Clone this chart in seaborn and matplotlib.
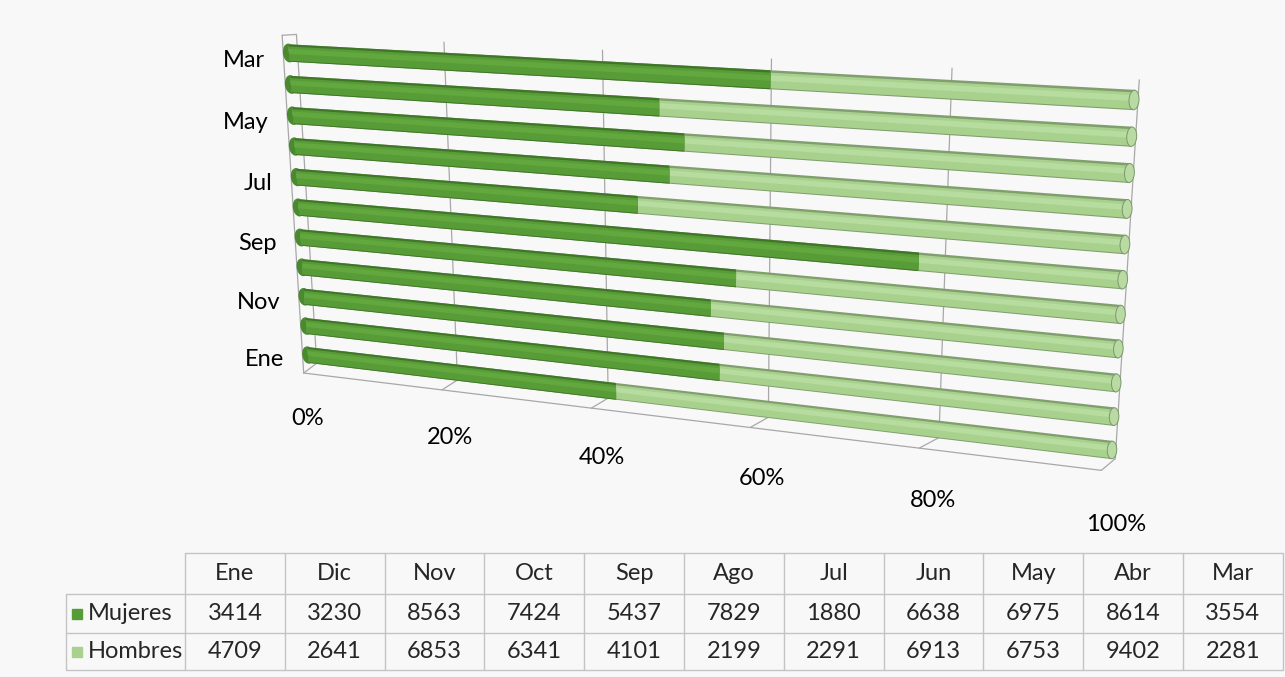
import numpy as np
import pandas as pd
import matplotlib
matplotlib.use('Agg')
import matplotlib.pyplot as plt
import matplotlib.transforms as mtransforms
from matplotlib.patches import Ellipse, Rectangle
import seaborn as sns

# values from the data table (left to right)
months = ['Ene', 'Dic', 'Nov', 'Oct', 'Sep', 'Ago', 'Jul', 'Jun', 'May', 'Abr', 'Mar']
mujeres = [3414, 3230, 8563, 7424, 5437, 7829, 1880, 6638, 6975, 8614, 3554]
hombres = [4709, 2641, 6853, 6341, 4101, 2199, 2291, 6913, 6753, 9402, 2281]
series = ['Mujeres', 'Hombres']
pct_ticks = [0, 20, 40, 60, 80, 100]
shown_labels = ['Mar', 'May', 'Jul', 'Sep', 'Nov', 'Ene']

sns.set_style('white')
plt.rcParams['font.family'] = ['Lato', 'DejaVu Sans']

W, H = 1285, 677
bg = '#f8f8f8'
dark = '#589c38'
light = '#a9d18e'
grid_c = '#a8a8a8'
fs = 17

df = pd.DataFrame({'mes': months, 'Mujeres': mujeres, 'Hombres': hombres})
df['total'] = df['Mujeres'] + df['Hombres']
df['p_muj'] = df['Mujeres'] / df['total']
df['p_all'] = df['total'] / df['total']
order = months[::-1]  # Mar at the top, Ene at the bottom

fig = plt.figure(figsize=(W / 100, H / 100), dpi=100, facecolor=bg)
ax = fig.add_axes([0, 0, 1, 1])
ax.set_facecolor('none')


# perspective (3d look) applied on top of the normal axes transform
def homography(src, dst):
    A, b = [], []
    for (x, y), (u, v) in zip(src, dst):
        A.append([x, y, 1, 0, 0, 0, -u * x, -u * y]); b.append(u)
        A.append([0, 0, 0, x, y, 1, -v * x, -v * y]); b.append(v)
    h = np.linalg.solve(np.array(A, float), np.array(b, float))
    return np.append(h, 1).reshape(3, 3)


class Perspective(mtransforms.Transform):
    input_dims = output_dims = 2

    def __init__(self, M):
        super().__init__()
        self.M = M

    def transform_non_affine(self, values):
        v = np.asarray(values, float)
        one = v.ndim == 1
        v = v.reshape(-1, 2)
        p = np.column_stack([v, np.ones(len(v))]) @ self.M.T
        out = p[:, :2] / p[:, 2:3]
        return out.reshape(-1) if one else out


# plot plane corners (axes fraction -> pixels)
M = homography([(0, 1), (1, 1), (0, 0), (1, 0)],
               [(289, H - 53), (1134, H - 100), (308, H - 355), (1112, H - 450)])
T = ax.transScale + ax.transLimits + Perspective(M)


def cyl(col, color, width, dy=0.0, z=2):
    n0 = len(ax.patches)
    sns.barplot(data=df, x=col, y='mes', order=order, orient='h', color=color,
                width=width, saturation=1, errorbar=None, linewidth=0, ax=ax, zorder=z)
    for p in ax.patches[n0:]:
        p.set_y(p.get_y() + dy)
        p.set_transform(T)
        p.set_clip_on(False)


def pline(ss, rr, **kw):
    ax.plot(ss, rr, transform=T, clip_on=False, color=grid_c, lw=0.9, zorder=0.5, **kw)


# back wall grid, side wall and floor
for t in pct_ticks[1:-1]:
    s = t / 100
    pline([s + 0.01, s + 0.01], [-0.6, 10.25])
    pline([s + 0.01, s - 0.012], [10.25, 10.65])
pline([0.012, 0.012], [-0.6, 10.25])
pline([-0.008, -0.008], [-0.55, 10.65])
pline([-0.008, 0.012], [-0.55, -0.6])
pline([0.012, -0.008], [10.25, 10.65])
pline([-0.008, 0.99], [10.65, 10.65])
pline([1.004, 1.004], [-0.55, 10.25])
pline([1.004, 0.99], [10.25, 10.65])

# cylinders: Hombres fills to 100%, Mujeres drawn on top
cyl('p_all', '#819e6e', 0.55, z=2)
cyl('p_all', light, 0.45, dy=0.02, z=2.1)
cyl('p_all', '#b7dc9f', 0.16, dy=-0.05, z=2.2)
cyl('p_muj', '#407628', 0.55, z=2.3)
cyl('p_muj', dark, 0.45, dy=0.02, z=2.4)
cyl('p_muj', '#62a83e', 0.16, dy=-0.05, z=2.5)

for i in range(len(order)):
    ax.add_patch(Ellipse((0, i), 0.015, 0.55, transform=T, color='#4a8a2f',
                         zorder=1.9, clip_on=False))
    ax.add_patch(Ellipse((1, i), 0.01, 0.53, transform=T, facecolor='#b9dba3',
                         edgecolor='#7a9868', lw=0.7, zorder=5, clip_on=False))

# axis labels
for name in shown_labels:
    ax.text(-0.035, order.index(name) + 0.27, name, transform=T, ha='right', va='center',
            fontsize=fs, color='black')
for t in pct_ticks:
    ax.text(t / 100 * 1.015 - 0.006, 12.25, f'{t}%', transform=T, ha='center', va='center',
            fontsize=fs, color='black')

ax.set_xlim(0, 1)
ax.set_ylim(10, 0)
ax.axis('off')

# data table underneath
tab = fig.add_axes([0, 0, 1, 1], facecolor='none')
tab.set_xlim(0, W)
tab.set_ylim(H, 0)
tab.axis('off')
x0, cw, lab_x = 185, 99.8, 66
ys = [553, 594, 633, 670]
line_c = '#c4c4c4'
x_end = x0 + cw * len(months)
tab.plot([x0, x_end], [ys[0], ys[0]], color=line_c, lw=1)
for y in ys[1:]:
    tab.plot([lab_x, x_end], [y, y], color=line_c, lw=1)
for i in range(len(months) + 1):
    tab.plot([x0 + i * cw] * 2, [ys[0], ys[-1]], color=line_c, lw=1)
tab.plot([lab_x, lab_x], [ys[1], ys[-1]], color=line_c, lw=1)

for i, m in enumerate(months):
    cx = x0 + (i + 0.5) * cw
    tab.text(cx, (ys[0] + ys[1]) / 2, m, ha='center', va='center', fontsize=fs)
    tab.text(cx, (ys[1] + ys[2]) / 2, str(mujeres[i]), ha='center', va='center', fontsize=fs)
    tab.text(cx, (ys[2] + ys[3]) / 2, str(hombres[i]), ha='center', va='center', fontsize=fs)

for k, (name, c) in enumerate(zip(series, [dark, light])):
    cy = (ys[k + 1] + ys[k + 2]) / 2
    tab.add_patch(Rectangle((lab_x + 6, cy - 5), 10, 10, color=c))
    tab.text(lab_x + 22, cy, name, ha='left', va='center', fontsize=fs)

fig.savefig('out.png', dpi=100, facecolor=bg)
